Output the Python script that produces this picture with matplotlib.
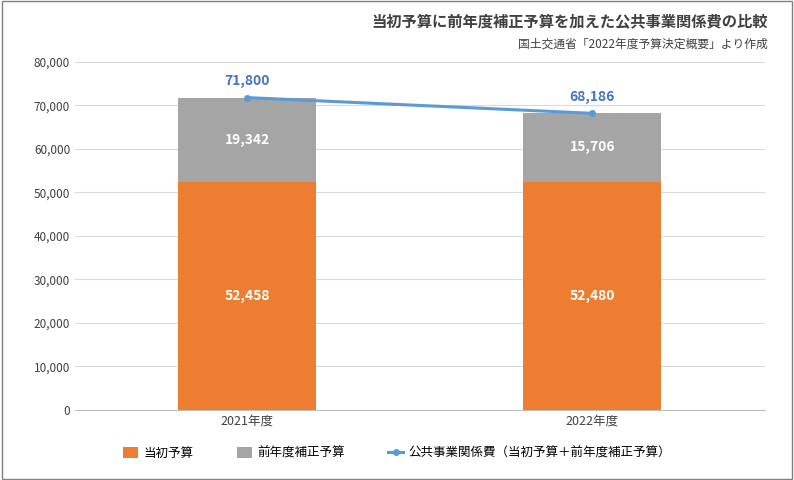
import matplotlib
matplotlib.use("Agg")
import matplotlib.pyplot as plt
from matplotlib.patches import Rectangle

plt.rcParams['font.family'] = 'Noto Sans CJK JP'

categories = ["2021年度", "2022年度"]
initial = [52458, 52480]
supplementary = [19342, 15706]
total = [71800, 68186]

fig = plt.figure(figsize=(7.94, 4.8), dpi=100)
ax = fig.add_axes([0.0945, 0.146, 0.8685, 0.725])
x = list(range(len(categories)))
b1 = ax.bar(x, initial, width=0.4, color="#ED7D31", label="当初予算", zorder=2)
b2 = ax.bar(x, supplementary, width=0.4, bottom=initial, color="#A5A5A5", label="前年度補正予算", zorder=2)
l1, = ax.plot(x, total, color="#5B9BD5", lw=2.2, marker="o", ms=4, label="公共事業関係費（当初予算＋前年度補正予算）", zorder=3)
for i in x:
    ax.text(i, initial[i]/2, f"{initial[i]:,}", ha="center", va="center", color="white", fontsize=10, fontweight="bold")
    ax.text(i, initial[i]+supplementary[i]/2, f"{supplementary[i]:,}", ha="center", va="center", color="white", fontsize=10, fontweight="bold")
    ax.text(i, total[i]+2200, f"{total[i]:,}", ha="center", va="bottom", color="#4472C4", fontsize=10, fontweight="bold")
ax.set_xlim(-0.5, 1.5)
ax.set_ylim(0, 80000)
ax.set_yticks(range(0, 80001, 10000))
ax.set_yticklabels([f"{v:,}" for v in range(0, 80001, 10000)], fontsize=8.5, color="#404040")
ax.set_xticks(x)
ax.set_xticklabels(categories, fontsize=9, color="#404040")
ax.grid(axis="y", color="#D9D9D9", lw=0.8, zorder=0)
for s in ["top", "right", "left"]:
    ax.spines[s].set_visible(False)
ax.spines["bottom"].set_color("#BFBFBF")
ax.tick_params(length=0)
fig.text(0.967, 0.955, "当初予算に前年度補正予算を加えた公共事業関係費の比較", ha="right", va="center", fontsize=11, fontweight="bold", color="#404040")
fig.text(0.967, 0.908, "国土交通省「2022年度予算決定概要」より作成", ha="right", va="center", fontsize=8.5, color="#404040")
fig.legend([b1, b2, l1], [b1.get_label(), b2.get_label(), l1.get_label()],
           loc="center", bbox_to_anchor=(0.5, 0.056), ncol=3, frameon=False, fontsize=9,
           handlelength=1.2, handleheight=1.0, columnspacing=3.5, handletextpad=0.4)
fig.patches.append(Rectangle((0.002, 0.002), 0.996, 0.996, transform=fig.transFigure, fill=False, edgecolor="#808080", lw=1))
fig.savefig("out.png", dpi=100)
